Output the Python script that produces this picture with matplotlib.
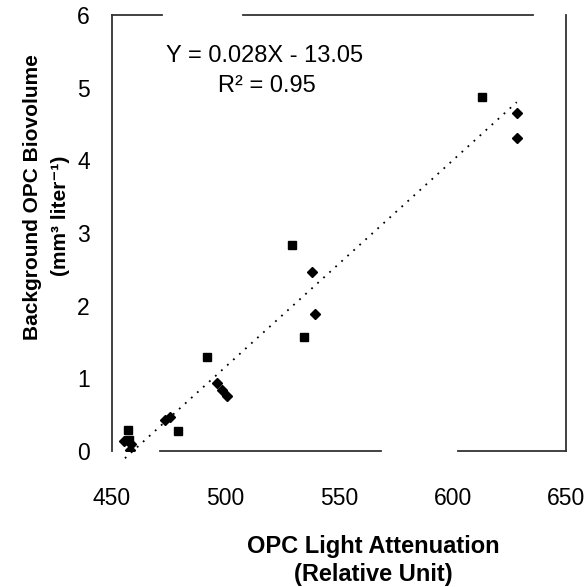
import matplotlib
matplotlib.use('Agg')
import matplotlib.pyplot as plt

plt.rcParams['font.family'] = ['Liberation Sans', 'DejaVu Sans']

# square series
sq_x = [457.2, 457.5, 479.2, 491.7, 529.4, 534.6, 612.9]
sq_y = [0.29, 0.15, 0.27, 1.29, 2.83, 1.57, 4.87]

# diamond series
dm_x = [455.5, 458.5, 458.0, 473.3, 475.5, 496.1, 498.3, 500.5, 538.0, 539.4, 628.5, 628.5]
dm_y = [0.14, 0.10, 0.02, 0.43, 0.47, 0.93, 0.84, 0.75, 2.46, 1.89, 4.65, 4.31]

# linear trend line (ends)
trend_x = [455.7, 628.3]
trend_y = [-0.10, 4.80]

x_ticks = [450, 500, 550, 600, 650]
y_ticks = [0, 1, 2, 3, 4, 5, 6]

fig = plt.figure(figsize=(5.88, 5.87), dpi=100)
ax = fig.add_axes([0.1905, 0.2317, 0.7721, 0.7428])

ax.plot(trend_x, trend_y, color='black', lw=1.3, linestyle=(0, (1, 3.5)), clip_on=False)
ax.plot(sq_x, sq_y, linestyle='none', marker='s', ms=6, color='black')
ax.plot(dm_x, dm_y, linestyle='none', marker='D', ms=5, color='black')

ax.set_xlim(450, 650)
ax.set_ylim(0, 6)
ax.set_xticks(x_ticks)
ax.set_yticks(y_ticks)
ax.tick_params(length=0, labelsize=16.5)
ax.tick_params(axis='x', pad=26)
ax.tick_params(axis='y', pad=16)

# broken frame like the scan
for s in ax.spines.values():
    s.set_visible(False)
fc = '#333333'
tr = ax.transAxes
ax.plot([0, 0], [0, 1], color=fc, lw=1.3, transform=tr, clip_on=False)
ax.plot([1, 1], [0, 1], color=fc, lw=1.3, transform=tr, clip_on=False)
ax.plot([0, 0.11], [1, 1], color=fc, lw=1.3, transform=tr, clip_on=False)
ax.plot([0.289, 0.927], [1, 1], color=fc, lw=1.3, transform=tr, clip_on=False)
ax.plot([0.106, 0.593], [0, 0], color=fc, lw=1.3, transform=tr, clip_on=False)
ax.plot([0.762, 1], [0, 0], color=fc, lw=1.3, transform=tr, clip_on=False)

ax.text(0.335, 0.905, 'Y = 0.028X - 13.05', transform=tr, ha='center', va='center', fontsize=17)
ax.text(0.342, 0.837, 'R² = 0.95', transform=tr, ha='center', va='center', fontsize=17)

fig.text(373 / 588, 1 - 547 / 587, 'OPC Light Attenuation', ha='center', va='center',
         fontsize=17, fontweight='bold')
fig.text(373 / 588, 1 - 575 / 587, '(Relative Unit)', ha='center', va='center',
         fontsize=17, fontweight='bold')
fig.text(33 / 588, 1 - 197 / 587, 'Background OPC Biovolume', ha='center', va='center',
         rotation=90, fontsize=15, fontweight='bold')
fig.text(60 / 588, 1 - 216 / 587, '(mm³ liter⁻¹)', ha='center', va='center',
         rotation=90, fontsize=15, fontweight='bold')

fig.savefig('out.png', dpi=100)
